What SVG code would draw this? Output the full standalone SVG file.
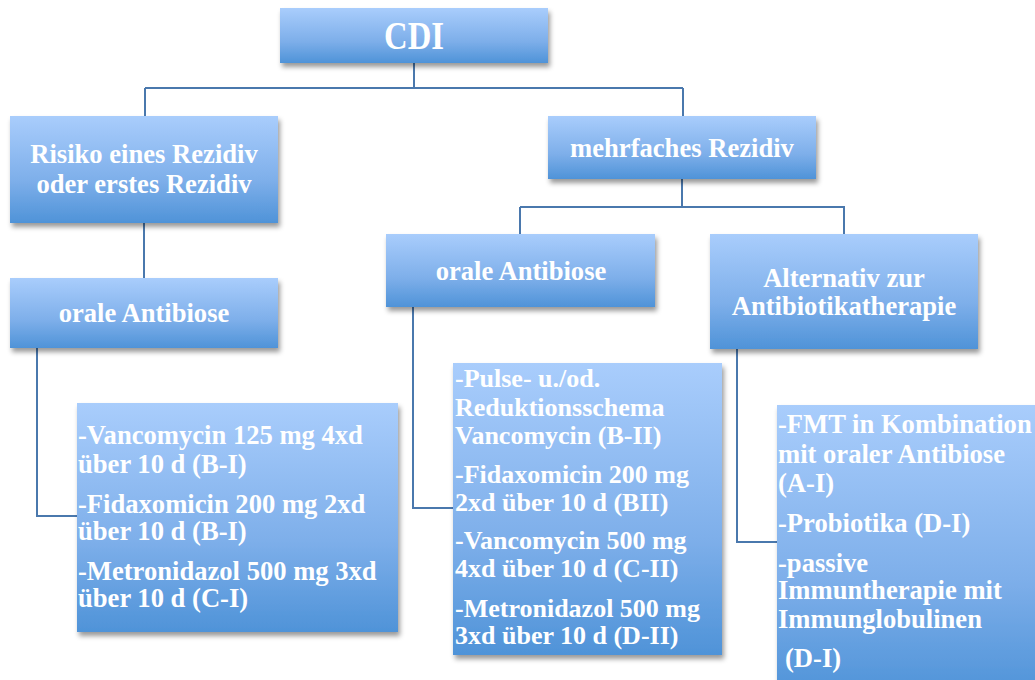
<svg xmlns="http://www.w3.org/2000/svg" width="1035" height="680" viewBox="0 0 1035 680">
<defs>
<linearGradient id="g" x1="0" y1="0" x2="0" y2="1">
<stop offset="0" stop-color="#a9cdfc"/>
<stop offset="0.6" stop-color="#7eafea"/>
<stop offset="1" stop-color="#4f93d8"/>
</linearGradient>
<filter id="sh" x="-10%" y="-10%" width="130%" height="130%">
<feDropShadow dx="2" dy="4" stdDeviation="2.5" flood-color="#000" flood-opacity="0.4"/>
</filter>
</defs>
<style>
.box{fill:url(#g);filter:url(#sh);}
.t{font-family:"Liberation Serif","Times New Roman",serif;font-weight:bold;fill:#fff;font-size:26.6px;}
.s{font-size:26px;}
.c{text-anchor:middle;}
.ln{fill:none;stroke:#4a78ad;stroke-width:2;}
</style>
<rect width="1035" height="680" fill="#fff"/>
<g id="connectors">
<path class="ln" d="M414 63V88M145 88H683M145 88V116M683 88V116"/>
<path class="ln" d="M144 223V278"/>
<path class="ln" d="M682 179V207M520 207H845M520 207V234M844 207V234"/>
<path class="ln" d="M37 348V516H77"/>
<path class="ln" d="M413 307V508H453"/>
<path class="ln" d="M737 349V542H777"/>
</g>
<g id="cdi">
<rect class="box" x="280" y="8" width="268" height="55"/>
<text class="t c" x="414" y="49" style="font-size:39px" textLength="60" lengthAdjust="spacingAndGlyphs">CDI</text>
</g>
<g id="risiko">
<rect class="box" x="10" y="116" width="268" height="107"/>
<text class="t c" x="144" y="163">Risiko eines Rezidiv</text>
<text class="t c" x="144" y="193">oder erstes Rezidiv</text>
</g>
<g id="mehrfach">
<rect class="box" x="548" y="116" width="268" height="63"/>
<text class="t c" x="682" y="157">mehrfaches Rezidiv</text>
</g>
<g id="orale1">
<rect class="box" x="10" y="278" width="268" height="70"/>
<text class="t c" x="144" y="322">orale Antibiose</text>
</g>
<g id="orale2">
<rect class="box" x="386" y="234" width="269" height="73"/>
<text class="t c" x="521" y="280">orale Antibiose</text>
</g>
<g id="alternativ">
<rect class="box" x="710" y="234" width="268" height="115"/>
<text class="t c" x="844" y="287">Alternativ zur</text>
<text class="t c" x="844" y="315">Antibiotikatherapie</text>
</g>
<g id="detail1">
<rect class="box" x="77" y="403" width="321" height="229"/>
<text class="t" x="78" y="444">-Vancomycin 125 mg 4xd</text>
<text class="t" x="78" y="473">über 10 d (B-I)</text>
<text class="t" x="78" y="513">-Fidaxomicin 200 mg 2xd</text>
<text class="t" x="78" y="540">über 10 d (B-I)</text>
<text class="t" x="78" y="580">-Metronidazol 500 mg 3xd</text>
<text class="t" x="78" y="607">über 10 d (C-I)</text>
</g>
<g id="detail2">
<rect class="box" x="453" y="363" width="269" height="292"/>
<text class="t s" x="455" y="387">-Pulse- u./od.</text>
<text class="t s" x="455" y="416">Reduktionsschema</text>
<text class="t s" x="455" y="444">Vancomycin (B-II)</text>
<text class="t s" x="455" y="483">-Fidaxomicin 200 mg</text>
<text class="t s" x="455" y="511">2xd über 10 d (BII)</text>
<text class="t s" x="455" y="549">-Vancomycin 500 mg</text>
<text class="t s" x="455" y="577">4xd über 10 d (C-II)</text>
<text class="t s" x="455" y="617">-Metronidazol 500 mg</text>
<text class="t s" x="455" y="644">3xd über 10 d (D-II)</text>
</g>
<g id="detail3">
<rect class="box" x="777" y="405" width="270" height="290"/>
<text class="t" x="778" y="433">-FMT in Kombination</text>
<text class="t" x="778" y="463">mit oraler Antibiose</text>
<text class="t" x="778" y="492">(A-I)</text>
<text class="t" x="778" y="532">-Probiotika (D-I)</text>
<text class="t" x="778" y="572">-passive</text>
<text class="t" x="778" y="599">Immuntherapie mit</text>
<text class="t" x="778" y="628">Immunglobulinen</text>
<text class="t" x="785" y="667">(D-I)</text>
</g>
</svg>
